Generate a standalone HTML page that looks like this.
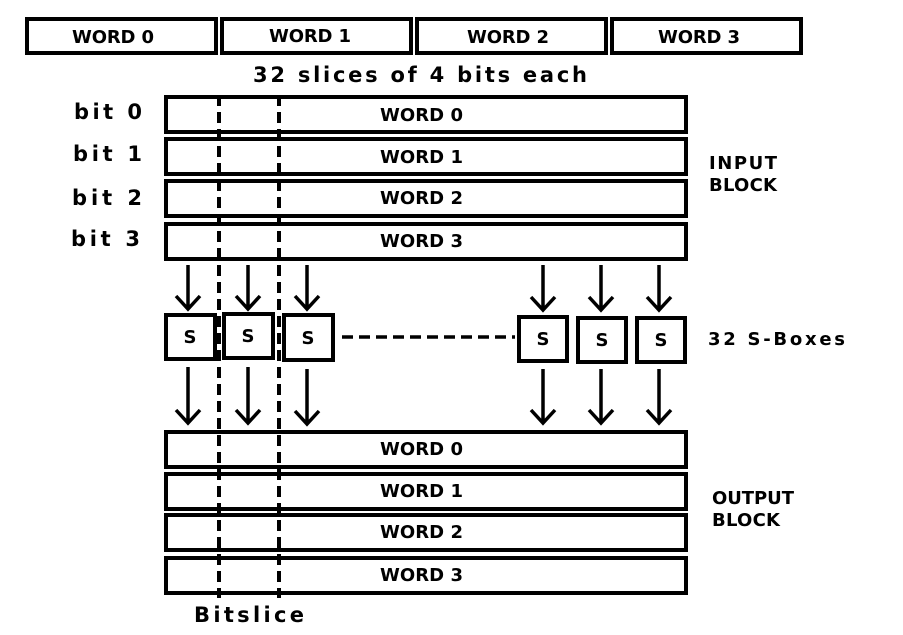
<!DOCTYPE html>
<html><head><style>html,body{margin:0;padding:0;background:#fff}svg{display:block}
text{font-family:"DejaVu Sans","Liberation Sans",sans-serif;font-weight:bold;font-size:18px;fill:#000}
.lc{font-size:21px}</style></head>
<body>
<svg width="903" height="635" viewBox="0 0 903 635" xmlns="http://www.w3.org/2000/svg">
<g fill="none" stroke="#000" stroke-width="4">
<rect x="27" y="19" width="189" height="34"/>
<rect x="222" y="19" width="189" height="34"/>
<rect x="417" y="19" width="189" height="34"/>
<rect x="612" y="19" width="189" height="34"/>
<rect x="166" y="97" width="520" height="35"/>
<rect x="166" y="139" width="520" height="35"/>
<rect x="166" y="181" width="520" height="35"/>
<rect x="166" y="224" width="520" height="35"/>
<rect x="166" y="432" width="520" height="35"/>
<rect x="166" y="474" width="520" height="35"/>
<rect x="166" y="515" width="520" height="35"/>
<rect x="166" y="558" width="520" height="35"/>
<rect x="166" y="315" width="49" height="44"/>
<rect x="224" y="314" width="49" height="44"/>
<rect x="284" y="315" width="49" height="45"/>
<rect x="519" y="317" width="48" height="44"/>
<rect x="578" y="318" width="48" height="44"/>
<rect x="637" y="318" width="48" height="44"/>
</g>
<g stroke="#000" stroke-width="4" stroke-dasharray="11,6">
<line x1="219" y1="95" x2="219" y2="598"/>
<line x1="279" y1="95" x2="279" y2="598"/>
<line x1="342" y1="337" x2="515" y2="337" stroke-width="3.5"/>
</g>
<g stroke="#000" stroke-width="3.5" fill="none">
<path d="M188 265V309M176 296L188 309L200 296"/>
<path d="M248 265V309M236 296L248 309L260 296"/>
<path d="M307 265V309M295 296L307 309L319 296"/>
<path d="M543 265V310M531 297L543 310L555 297"/>
<path d="M601 265V310M589 297L601 310L613 297"/>
<path d="M659 265V310M647 297L659 310L671 297"/>
<path d="M188 367V423M176 410L188 423L200 410"/>
<path d="M248 367V423M236 410L248 423L260 410"/>
<path d="M307 369V424M295 411L307 424L319 411"/>
<path d="M543 369V423M531 410L543 423L555 410"/>
<path d="M601 369V423M589 410L601 423L613 410"/>
<path d="M659 369V423M647 410L659 423L671 410"/>
</g>
<text x="72" y="43" textLength="82" lengthAdjust="spacing">WORD 0</text>
<text x="269" y="42" textLength="82" lengthAdjust="spacing">WORD 1</text>
<text x="467" y="43" textLength="82" lengthAdjust="spacing">WORD 2</text>
<text x="658" y="43" textLength="82" lengthAdjust="spacing">WORD 3</text>
<text class="lc" x="253" y="82" textLength="334" lengthAdjust="spacing">32 slices of 4 bits each</text>
<text class="lc" x="74" y="119" textLength="68" lengthAdjust="spacing">bit 0</text>
<text class="lc" x="73" y="161" textLength="69" lengthAdjust="spacing">bit 1</text>
<text class="lc" x="72" y="205" textLength="70" lengthAdjust="spacing">bit 2</text>
<text class="lc" x="71" y="246" textLength="69" lengthAdjust="spacing">bit 3</text>
<g>
<text x="380" y="121" textLength="83" lengthAdjust="spacing">WORD 0</text>
<text x="380" y="163" textLength="83" lengthAdjust="spacing">WORD 1</text>
<text x="380" y="204" textLength="83" lengthAdjust="spacing">WORD 2</text>
<text x="380" y="247" textLength="83" lengthAdjust="spacing">WORD 3</text>
<text x="380" y="455" textLength="83" lengthAdjust="spacing">WORD 0</text>
<text x="380" y="497" textLength="83" lengthAdjust="spacing">WORD 1</text>
<text x="380" y="538" textLength="83" lengthAdjust="spacing">WORD 2</text>
<text x="380" y="581" textLength="83" lengthAdjust="spacing">WORD 3</text>
</g>
<g text-anchor="middle">
<text x="190" y="343">S</text>
<text x="248" y="342">S</text>
<text x="308" y="344">S</text>
<text x="543" y="345">S</text>
<text x="602" y="346">S</text>
<text x="661" y="346">S</text>
</g>
<text x="709" y="169" textLength="68" lengthAdjust="spacing">INPUT</text>
<text x="709" y="191" textLength="68" lengthAdjust="spacing">BLOCK</text>
<text x="708" y="345" textLength="137" lengthAdjust="spacing">32 S-Boxes</text>
<text x="712" y="504" textLength="82" lengthAdjust="spacing">OUTPUT</text>
<text x="712" y="526" textLength="68" lengthAdjust="spacing">BLOCK</text>
<text class="lc" x="194" y="622" textLength="110" lengthAdjust="spacing">Bitslice</text>
</svg>
</body></html>
